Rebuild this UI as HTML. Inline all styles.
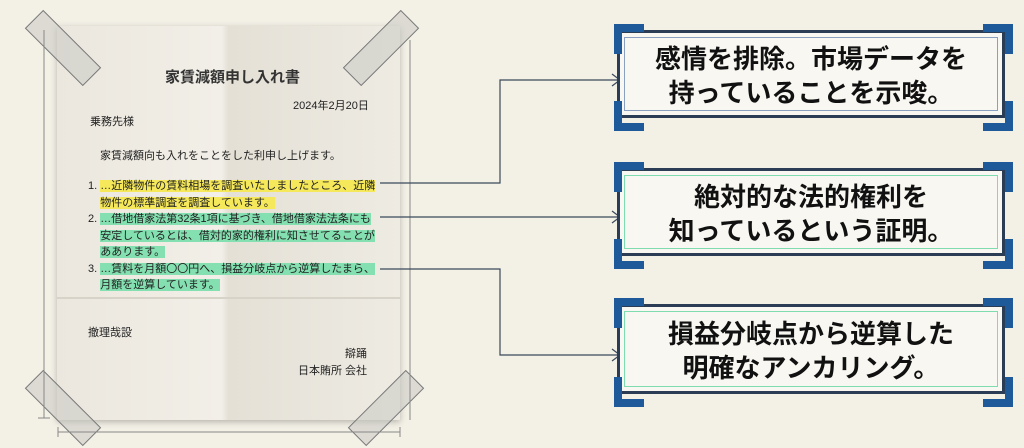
<!DOCTYPE html>
<html><head><meta charset="utf-8"><style>
body{margin:0;width:1024px;height:448px;background:#f3f0e6;position:relative;overflow:hidden;font-family:"Liberation Sans","Noto Sans CJK JP",sans-serif;}
.a{position:absolute;white-space:nowrap;}
.paper{position:absolute;left:57px;top:26px;width:343px;height:394px;background:linear-gradient(90deg,#ebe7de 0%,#f2efe8 48%,#e4e0d6 50%,#eeebe3 100%);box-shadow:0 2px 6px rgba(0,0,0,.25);}
.fold{position:absolute;left:57px;top:297px;width:343px;height:2px;background:#d8d3c8;}
.t{font-size:11px;color:#222;}
.y{background:#f5e85a;}
.g{background:#84e0b0;}
.box{position:absolute;left:617px;width:388px;background:#f8f7f1;border:3px solid #2b3d55;box-sizing:border-box;}
.box .in{position:absolute;inset:4px;border:1px solid #8aa0c0;}
.box .tx{position:absolute;left:0;right:0;text-align:center;font-weight:bold;font-size:26px;line-height:34px;color:#111;}
.c{position:absolute;width:22px;height:22px;border-color:#1e5a9a;border-style:solid;}
.tape{position:absolute;width:80px;height:24px;background:rgba(200,200,195,.55);border:1px solid #777;}
</style></head><body>
<div class="paper"></div>
<div class="fold"></div>
<div class="tape" style="left:22px;top:35px;transform:rotate(45deg)"></div>
<div class="tape" style="left:340px;top:35px;transform:rotate(-45deg)"></div>
<div class="tape" style="left:22px;top:395px;transform:rotate(45deg)"></div>
<div class="tape" style="left:345px;top:395px;transform:rotate(-45deg)"></div>
<div class="a" style="left:165px;top:66px;font-size:15px;font-weight:bold;color:#333">家賃減額申し入れ書</div>
<div class="a t" style="left:293px;top:97px">2024年2月20日</div>
<div class="a t" style="left:90px;top:113px">乗務先様</div>
<div class="a t" style="left:100px;top:147px">家賃減額向も入れをことをした利申し上げます。</div>
<div class="a t" style="left:88px;top:178px;line-height:16.5px">1. <span class="y">…近隣物件の賃料相場を調査いたしましたところ、近隣</span><br>&nbsp;&nbsp;&nbsp;&nbsp;<span class="y">物件の標準調査を調査しています。</span><br>2. <span class="g">…借地借家法第32条1項に基づき、借地借家法法条にも</span><br>&nbsp;&nbsp;&nbsp;&nbsp;<span class="g">安定しているとは、借対的家的権利に知させてることが</span><br>&nbsp;&nbsp;&nbsp;&nbsp;<span class="g">ああります。</span><br>3. <span class="g">…賃料を月額〇〇円へ、損益分岐点から逆算したまら、</span><br>&nbsp;&nbsp;&nbsp;&nbsp;<span class="g">月額を逆算しています。</span></div>
<div class="a t" style="left:88px;top:324px">撤理哉設</div>
<div class="a t" style="left:345px;top:345px">辯踊</div>
<div class="a t" style="left:298px;top:362px">日本賄所 会社</div>
<svg class="a" style="left:0;top:0" width="1024" height="448">
<g stroke="#888" stroke-width="1" fill="none">
<line x1="44" y1="30" x2="44" y2="418"/><line x1="38" y1="418" x2="50" y2="418"/>
<line x1="58" y1="432" x2="400" y2="432"/><line x1="58" y1="427" x2="58" y2="437"/><line x1="400" y1="427" x2="400" y2="437"/>
<line x1="410" y1="40" x2="410" y2="420"/>
</g>
<g stroke="#3a4a5a" stroke-width="1.2" fill="none">
<polyline points="380,183 500,183 500,80 620,80"/>
<polyline points="612,74 620,80 612,86"/>
<line x1="380" y1="217" x2="620" y2="217"/>
<polyline points="612,211 620,217 612,223"/>
<polyline points="380,269 500,269 500,355 620,355"/>
<polyline points="612,349 620,355 612,361"/>
</g>
</svg>
<div class="box" style="top:30px;height:88px"><div class="in"></div><div class="tx" style="top:9px">感情を排除。市場データを<br>持っていることを示唆。</div></div>
<div class="box" style="top:168px;height:88px"><div class="in" style="border-color:#7fdcb0"></div><div class="tx" style="top:9px">絶対的な法的権利を<br>知っているという証明。</div></div>
<div class="box" style="top:304px;height:90px"><div class="in" style="border-color:#7fdcb0"></div><div class="tx" style="top:10px">損益分岐点から逆算した<br>明確なアンカリング。</div></div>
<div class="c" style="left:614px;top:24px;border-width:8px 0 0 8px"></div>
<div class="c" style="left:983px;top:24px;border-width:8px 8px 0 0"></div>
<div class="c" style="left:614px;top:101px;border-width:0 0 8px 8px"></div>
<div class="c" style="left:983px;top:101px;border-width:0 8px 8px 0"></div>
<div class="c" style="left:614px;top:162px;border-width:8px 0 0 8px"></div>
<div class="c" style="left:983px;top:162px;border-width:8px 8px 0 0"></div>
<div class="c" style="left:614px;top:239px;border-width:0 0 8px 8px"></div>
<div class="c" style="left:983px;top:239px;border-width:0 8px 8px 0"></div>
<div class="c" style="left:614px;top:298px;border-width:8px 0 0 8px"></div>
<div class="c" style="left:983px;top:298px;border-width:8px 8px 0 0"></div>
<div class="c" style="left:614px;top:377px;border-width:0 0 8px 8px"></div>
<div class="c" style="left:983px;top:377px;border-width:0 8px 8px 0"></div>
</body></html>
